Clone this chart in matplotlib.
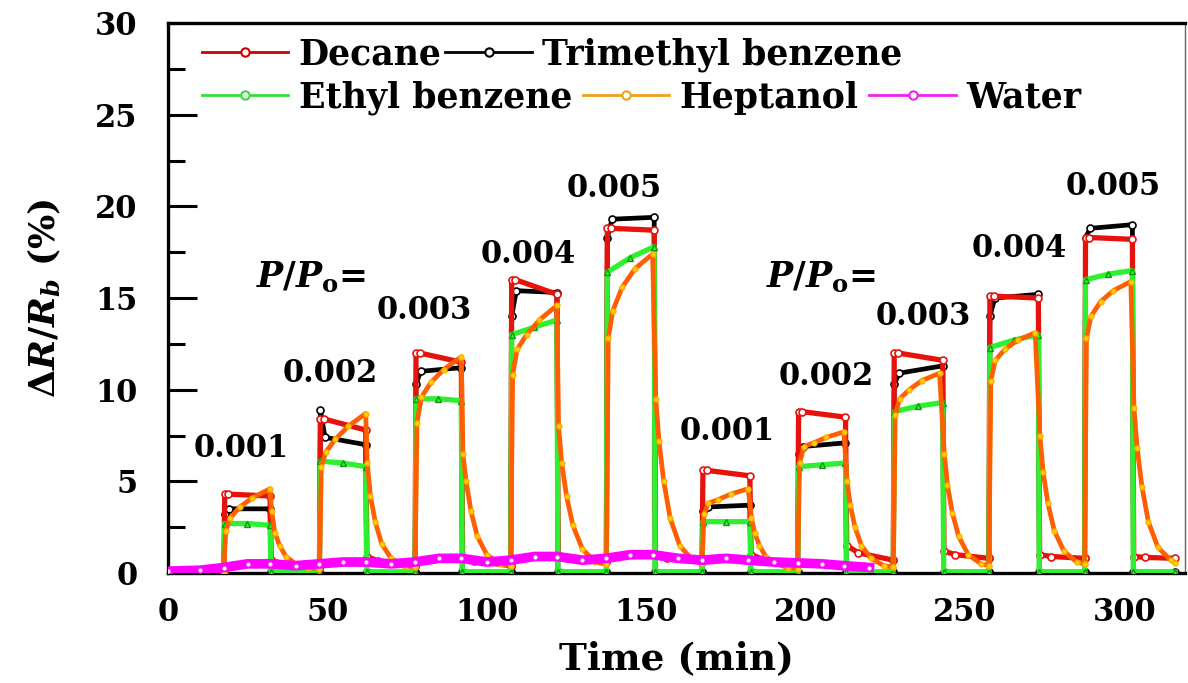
import numpy as np
import matplotlib
matplotlib.use("Agg")
import matplotlib.pyplot as plt
from matplotlib.lines import Line2D

plt.rcParams['font.family'] = ['DejaVu Serif']
plt.rcParams['font.weight'] = 'bold'
plt.rcParams['axes.labelweight'] = 'bold'
plt.rcParams['mathtext.fontset'] = 'custom'
plt.rcParams['mathtext.rm'] = 'DejaVu Serif:bold'
plt.rcParams['mathtext.it'] = 'DejaVu Serif:italic:bold'
plt.rcParams['mathtext.bf'] = 'DejaVu Serif:bold'

# ---------------------------------------------------------------------------
# data (time in min, response in %)
# ---------------------------------------------------------------------------
on_t = [17.5, 47.5, 77.5, 107.5, 137.5, 167.5, 197.5, 227.5, 257.5, 287.5]
off_t = [32, 62, 92, 122, 152.5, 182.5, 212.5, 243, 273, 302.5]
end_t = 316

# Decane (red)
decane_start = [4.3, 8.4, 12.0, 16.0, 18.8, 5.6, 8.8, 12.0, 15.1, 18.3]
decane_end = [4.2, 7.8, 11.5, 15.2, 18.7, 5.3, 8.5, 11.6, 15.0, 18.2]
decane_tail_hi = [0.7, 0.9, 0.9, 1.0, 1.0, 1.0, 1.5, 1.2, 1.0, 0.9]
decane_tail_lo = [0.3, 0.4, 0.4, 0.6, 0.6, 0.5, 0.7, 0.8, 0.8, 0.8]

# Trimethyl benzene (black)
tmb_first = [3.2, 8.9, 10.3, 14.0, 18.3, 3.4, 6.5, 10.3, 14.0, 18.3]
tmb_plateau = [3.5, 7.4, 11.0, 15.4, 19.3, 3.6, 6.9, 10.9, 15.0, 18.8]
tmb_end = [3.5, 7.0, 11.2, 15.3, 19.4, 3.7, 7.1, 11.3, 15.2, 19.0]

# Ethyl benzene (green)
eb_start = [2.7, 6.1, 9.5, 13.0, 16.4, 2.8, 5.8, 8.8, 12.3, 16.0]
eb_mid = [2.7, 6.0, 9.5, 13.4, 17.2, 2.8, 5.9, 9.1, 12.7, 16.3]
eb_end = [2.6, 5.8, 9.4, 13.8, 17.8, 2.8, 6.0, 9.3, 13.0, 16.5]

# Heptanol (orange): rise read at these minutes after exposure starts,
# recovery read at these minutes after it stops
hep_rise_dt = [0.6, 2, 5, 9, 14.5]
hep_rise = [
    [2.3, 3.0, 3.6, 4.1, 4.6],
    [5.8, 6.6, 7.3, 8.0, 8.7],
    [8.2, 9.6, 10.4, 11.1, 11.8],
    [10.8, 12.2, 13.0, 13.8, 14.6],
    [12.8, 14.3, 15.6, 16.6, 17.4],
    [3.2, 3.8, 4.0, 4.3, 4.6],
    [6.0, 6.9, 7.1, 7.4, 7.7],
    [8.6, 9.5, 10.0, 10.5, 10.9],
    [10.5, 11.6, 12.2, 12.7, 13.1],
    [12.8, 14.0, 14.8, 15.4, 15.9],
]
hep_decay_dt = [0.5, 1.5, 3, 5, 8, 12]
hep_decay = [
    [3.4, 2.2, 1.5, 0.9, 0.5, 0.3],
    [6.0, 4.2, 2.8, 1.6, 0.8, 0.4],
    [6.5, 5.0, 3.4, 2.0, 1.0, 0.5],
    [8.0, 6.0, 4.2, 2.6, 1.3, 0.6],
    [9.5, 7.2, 5.0, 3.0, 1.5, 0.7],
    [3.0, 2.2, 1.5, 0.9, 0.5, 0.3],
    [5.0, 3.7, 2.5, 1.5, 0.8, 0.4],
    [6.5, 4.8, 3.3, 2.0, 1.0, 0.5],
    [7.5, 5.5, 3.8, 2.3, 1.2, 0.6],
    [9.0, 6.8, 4.7, 2.8, 1.4, 0.7],
]

# Water (magenta)
water_t = [0, 10, 17.5, 25, 32, 40, 47.5, 55, 62, 70, 77.5, 85, 92, 100, 107.5,
           115, 122, 130, 137.5, 145, 152, 160, 167.5, 175, 182, 190, 197.5,
           205, 212, 220]
water_v = [0.1, 0.15, 0.3, 0.5, 0.5, 0.4, 0.5, 0.6, 0.6, 0.5, 0.6, 0.8, 0.8,
           0.6, 0.7, 0.9, 0.9, 0.7, 0.8, 1.0, 1.0, 0.8, 0.7, 0.8, 0.7, 0.6,
           0.55, 0.5, 0.4, 0.3]

ratio_labels = ['0.001', '0.002', '0.003', '0.004', '0.005'] * 2
label_t = [23, 51, 80.5, 113, 140, 175.5, 206.5, 237, 267, 296.5]
label_y = [6.8, 10.9, 14.3, 17.4, 21.0, 7.7, 10.7, 14.0, 17.7, 21.1]
ratio_text_t = [45, 205]
ratio_text_y = [16.1, 16.1]


def step_trace(first, plateau, last, tail_hi=None, tail_lo=None, mid_frac=0.35):
    t, v = [0.0], [0.0]
    for i in range(len(on_t)):
        base = v[-1]
        t += [on_t[i], on_t[i] + 0.3,
              on_t[i] + (off_t[i] - on_t[i]) * mid_frac, off_t[i]]
        v += [base, first[i], plateau[i], last[i]]
        nxt = on_t[i + 1] if i + 1 < len(on_t) else end_t
        if tail_hi is None:
            t += [off_t[i] + 0.3, nxt]
            v += [0.05, 0.05]
        else:
            t += [off_t[i] + 0.4, off_t[i] + 4, nxt]
            v += [tail_hi[i], (tail_hi[i] + tail_lo[i]) / 2, tail_lo[i]]
    return t, v


def heptanol_trace():
    t, v = [0.0], [0.0]
    for i in range(len(on_t)):
        t.append(on_t[i])
        v.append(v[-1])
        t += [on_t[i] + d for d in hep_rise_dt]
        v += hep_rise[i]
        t += [off_t[i] + d for d in hep_decay_dt]
        v += hep_decay[i]
        nxt = on_t[i + 1] if i + 1 < len(on_t) else end_t
        t.append(nxt)
        v.append(hep_decay[i][-1] * 0.8)
    return t, v


dec_t, dec_v = step_trace(decane_start, decane_start, decane_end,
                          decane_tail_hi, decane_tail_lo, mid_frac=0.1)
tmb_t, tmb_v = step_trace(tmb_first, tmb_plateau, tmb_end, mid_frac=0.12)
eb_t, eb_v = step_trace(eb_start, eb_mid, eb_end, mid_frac=0.5)
hep_t, hep_v = heptanol_trace()

# ---------------------------------------------------------------------------
fig = plt.figure(figsize=(11.88, 6.83), dpi=100)
ax = fig.add_axes([168 / 1188, 110 / 683, 1017 / 1188, 550 / 683])

ax.plot(tmb_t, tmb_v, color='black', lw=3.4, marker='o', ms=5,
        mfc='white', mec='black', mew=1.2, zorder=2)
ax.plot(dec_t, dec_v, color='#e8120c', lw=3.8, marker='o', ms=5,
        mfc='white', mec='#e8120c', mew=1.2, zorder=3)
ax.plot(eb_t, eb_v, color='#2ef02e', lw=3.8, marker='^', ms=4,
        mfc='#2ef02e', mec='#119911', zorder=4)
ax.plot(hep_t, hep_v, color='#ff5f00', lw=3.4, marker='o', ms=3.5,
        mfc='#ffd400', mec='#ffb000', zorder=5)
ax.plot(water_t, water_v, color='#ff00ff', lw=7, marker='o', ms=4,
        mfc='white', mec='#ff00ff', zorder=6)

ax.set_xlim(0, 319)
ax.set_ylim(0, 30)
ax.set_xticks([0, 50, 100, 150, 200, 250, 300])
ax.set_yticks([0, 5, 10, 15, 20, 25, 30])
ax.set_yticks(np.arange(0, 30, 2.5), minor=True)
ax.tick_params(axis='x', length=0, pad=17, labelsize=22)
ax.tick_params(axis='y', which='major', direction='in', length=21, width=2.2,
               pad=22, labelsize=22)
ax.tick_params(axis='y', which='minor', direction='in', length=12, width=2.2)
for side in ['left', 'bottom', 'top']:
    ax.spines[side].set_linewidth(2.4)
ax.spines['right'].set_linewidth(1.0)
ax.spines['right'].set_color('#666666')

ax.set_xlabel('Time (min)', fontsize=27, labelpad=9)
ax.set_ylabel('$\\mathit{ΔR/R_b}$ (%)', fontsize=26, labelpad=24)

for lab, tx, ty in zip(ratio_labels, label_t, label_y):
    ax.text(tx, ty, lab, fontsize=22, ha='center', va='center', zorder=8)
for tx, ty in zip(ratio_text_t, ratio_text_y):
    ax.text(tx, ty, '$P/P_{\\mathrm{o}}$=', fontsize=25, ha='center',
            va='center', zorder=8)

# legend drawn as two rows, like the original
def handle(color):
    return Line2D([], [], color=color, lw=2, marker='o', ms=6,
                  mfc='white', mec=color, mew=1.5)

leg1 = ax.legend([handle('#cc0000'), handle('black')],
                 ['Decane', 'Trimethyl benzene'], ncol=2, frameon=False,
                 loc='center left', bbox_to_anchor=(0.033, 0.942),
                 borderpad=0, borderaxespad=0, handlelength=2.5,
                 handletextpad=0.3, columnspacing=0.1,
                 prop={'size': 25, 'weight': 'bold'})
ax.add_artist(leg1)
ax.legend([handle('#33dd33'), handle('#f0a020'), handle('#ee22ee')],
          ['Ethyl benzene', 'Heptanol', 'Water'], ncol=3, frameon=False,
          loc='center left', bbox_to_anchor=(0.033, 0.864),
          borderpad=0, borderaxespad=0, handlelength=2.5,
          handletextpad=0.3, columnspacing=0.3,
          prop={'size': 25, 'weight': 'bold'})

fig.savefig('out.png', dpi=100)
